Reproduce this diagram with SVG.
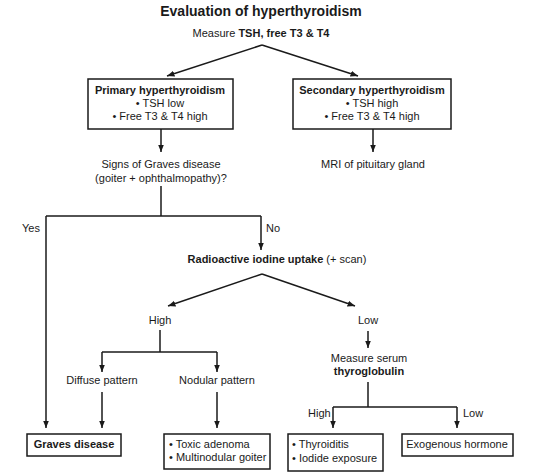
<svg xmlns="http://www.w3.org/2000/svg" width="537" height="475" viewBox="0 0 537 475">
<style>
text{font-family:"Liberation Sans",Arial,sans-serif;font-size:11px;fill:#1a1a1a}
.c{text-anchor:middle}
.b{font-weight:bold}
.t{font-size:14px;font-weight:bold}
.box{fill:#fff;stroke:#1a1a1a;stroke-width:1.5}
.ln{fill:none;stroke:#1a1a1a;stroke-width:1.5}
.ar{fill:none;stroke:#1a1a1a;stroke-width:1.5;marker-end:url(#ah)}
</style>
<defs>
<marker id="ah" viewBox="0 0 10 10" refX="10" refY="5" markerWidth="5" markerHeight="5" markerUnits="strokeWidth" orient="auto">
<path d="M0,1 L10,5 L0,9 z" fill="#1a1a1a"/>
</marker>
</defs>
<rect width="537" height="475" fill="#fff"/>
<text class="t c" x="261" y="16">Evaluation of hyperthyroidism</text>
<g id="measure"><text class="c" x="261" y="37">Measure <tspan class="b">TSH, free T3 &amp; T4</tspan></text></g>
<g id="connectors">
<path class="ar" d="M262,45 L167,76"/>
<path class="ar" d="M262,45 L358,76"/>
<path class="ar" d="M161,129 L161,152"/>
<path class="ar" d="M373,129 L373,152"/>
<path class="ln" d="M161,186 L161,216"/>
<path class="ln" d="M46,216 L261,216"/>
<path class="ar" d="M46,216 L46,428"/>
<path class="ar" d="M261,216 L261,250"/>
<path class="ar" d="M262,274 L168,306"/>
<path class="ar" d="M262,274 L355,306"/>
<path class="ln" d="M160,330 L160,352"/>
<path class="ln" d="M102,352 L217,352"/>
<path class="ar" d="M102,352 L102,372"/>
<path class="ar" d="M217,352 L217,372"/>
<path class="ar" d="M102,392 L102,428"/>
<path class="ar" d="M217,392 L217,428"/>
<path class="ar" d="M368,331 L368,348"/>
<path class="ln" d="M368,382 L368,407"/>
<path class="ln" d="M333,407 L457,407"/>
<path class="ar" d="M333,407 L333,428"/>
<path class="ar" d="M457,407 L457,428"/>
<text x="22" y="232">Yes</text>
<text x="266" y="232">No</text>
<text class="c" x="160" y="324">High</text>
<text class="c" x="368" y="324">Low</text>
<text x="308" y="417">High</text>
<text x="463" y="417">Low</text>
</g>
<g id="primary">
<rect class="box" x="88" y="79" width="145" height="50"/>
<text class="c b" x="160" y="94">Primary hyperthyroidism</text>
<text class="c" x="160" y="107">• TSH low</text>
<text class="c" x="160" y="120">• Free T3 &amp; T4 high</text>
</g>
<g id="secondary">
<rect class="box" x="293" y="79" width="158" height="50"/>
<text class="c b" x="372" y="94">Secondary hyperthyroidism</text>
<text class="c" x="372" y="107">• TSH high</text>
<text class="c" x="372" y="120">• Free T3 &amp; T4 high</text>
</g>
<g id="signs">
<text class="c" x="161" y="168">Signs of Graves disease</text>
<text class="c" x="161" y="182">(goiter + ophthalmopathy)?</text>
</g>
<g id="mri"><text class="c" x="373" y="168">MRI of pituitary gland</text></g>
<g id="rai"><text class="c" x="277" y="263"><tspan class="b">Radioactive iodine uptake</tspan> (+ scan)</text></g>
<g id="diffuse"><text class="c" x="102" y="384">Diffuse pattern</text></g>
<g id="nodular"><text class="c" x="217" y="384">Nodular pattern</text></g>
<g id="thyroglobulin">
<text class="c" x="369" y="362">Measure serum</text>
<text class="c b" x="369" y="375">thyroglobulin</text>
</g>
<g id="graves">
<rect class="box" x="27" y="434" width="94" height="22"/>
<text class="c b" x="74" y="448">Graves disease</text>
</g>
<g id="toxic">
<rect class="box" x="164" y="434" width="106" height="35"/>
<text x="169" y="448">• Toxic adenoma</text>
<text x="169" y="461">• Multinodular goiter</text>
</g>
<g id="thyroiditis">
<rect class="box" x="288" y="434" width="95" height="37"/>
<text x="292" y="448">• Thyroiditis</text>
<text x="292" y="462">• Iodide exposure</text>
</g>
<g id="exogenous">
<rect class="box" x="402" y="434" width="111" height="22"/>
<text class="c" x="457" y="448">Exogenous hormone</text>
</g>
</svg>
